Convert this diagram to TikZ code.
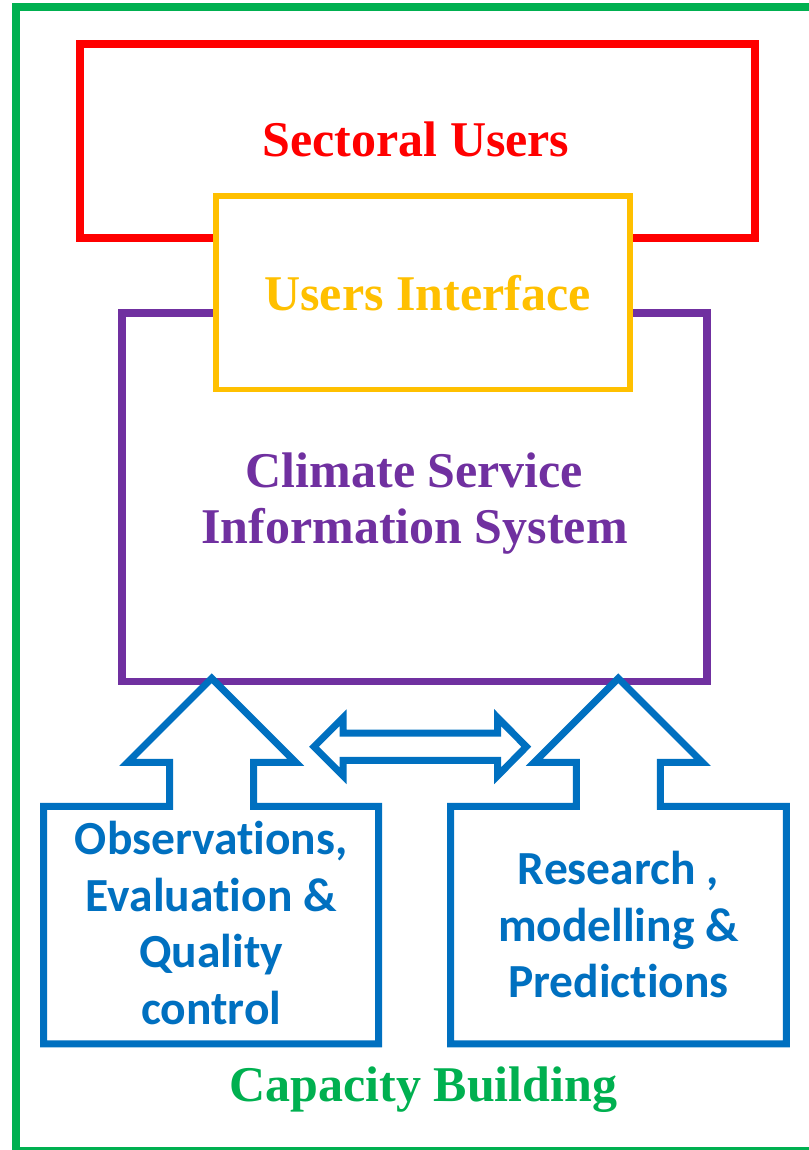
\documentclass[tikz,border=0pt]{standalone}
\usepackage{fontspec}
\newfontfamily\headfont{Liberation Serif}
\newfontfamily\bodyfont{Carlito}[Ligatures=NoCommon]
\definecolor{csred}{HTML}{FF0000}
\definecolor{csyellow}{HTML}{FFC000}
\definecolor{cspurple}{HTML}{7030A0}
\definecolor{csblue}{HTML}{0070C0}
\definecolor{csgreen}{HTML}{00B050}
\begin{document}
\begin{tikzpicture}[x=1pt,y=-1pt,
  layer/.style={line width=#1, fill=white},
  head/.style={font=\headfont\bfseries\fontsize{50}{56}\selectfont, anchor=base, inner sep=0pt, align=center},
  blurb/.style={font=\bodyfont\bfseries\fontsize{47.5}{56.5}\selectfont, text=csblue, anchor=base, inner sep=0pt, align=center},
  outline/.style={draw=csblue, line width=7pt, fill=white, line join=miter}]
  \useasboundingbox (0,0) rectangle (808,1150);

  % outer frame and stacked boxes
  \draw[csgreen, line width=8pt] (16,7.3) rectangle (840,1151);
  \draw[csred, layer=8pt] (80,44.5) rectangle (754.5,238);
  \draw[cspurple, layer=7.3pt] (122,313) rectangle (707,681.5);
  \draw[csyellow, layer=5.5pt] (215.8,196.2) rectangle (630,389.3);

  % block arrows rising from the two input boxes
  \draw[outline] (43.7,806.3) -- (169.7,806.3) -- (169.7,762.3) -- (127.7,762.3)
    -- (211.7,678.3) -- (295.7,762.3) -- (253.7,762.3) -- (253.7,806.3)
    -- (378.7,806.3) -- (378.7,1043.8) -- (43.7,1043.8) -- cycle;
  \draw[outline] (450.7,806.3) -- (576.3,806.3) -- (576.3,762.3) -- (534.3,762.3)
    -- (618.3,678.3) -- (702.3,762.3) -- (660.3,762.3) -- (660.3,806.3)
    -- (786.3,806.3) -- (786.3,1043.8) -- (450.7,1043.8) -- cycle;
  % two-way exchange arrow
  \draw[outline] (314,746.7) -- (343,717.7) -- (343,733) -- (497.7,733)
    -- (497.7,717.7) -- (526.3,746.7) -- (497.7,775.7) -- (497.7,760.3)
    -- (343,760.3) -- (343,775.7) -- cycle;

  % labels (multi-line nodes sit on the baseline of their last line)
  \node[head, text=csred] (users) at (416,156.7) {Sectoral Users};
  \node[head, text=csyellow] (iface) at (427.5,310.7) {Users Interface};
  \node[head, text=cspurple] (csis) at (414.5,543) {Climate Service\\Information System};
  \node[blurb] (obs) at (211.3,1024) {Observations,\\Evaluation \&\\Quality\\control};
  \node[blurb] (res) at (618.4,997.5) {Research ,\\modelling \&\\Predictions};
  \node[head, text=csgreen] (cap) at (423.3,1101.7) {Capacity Building};
\end{tikzpicture}
\end{document}
